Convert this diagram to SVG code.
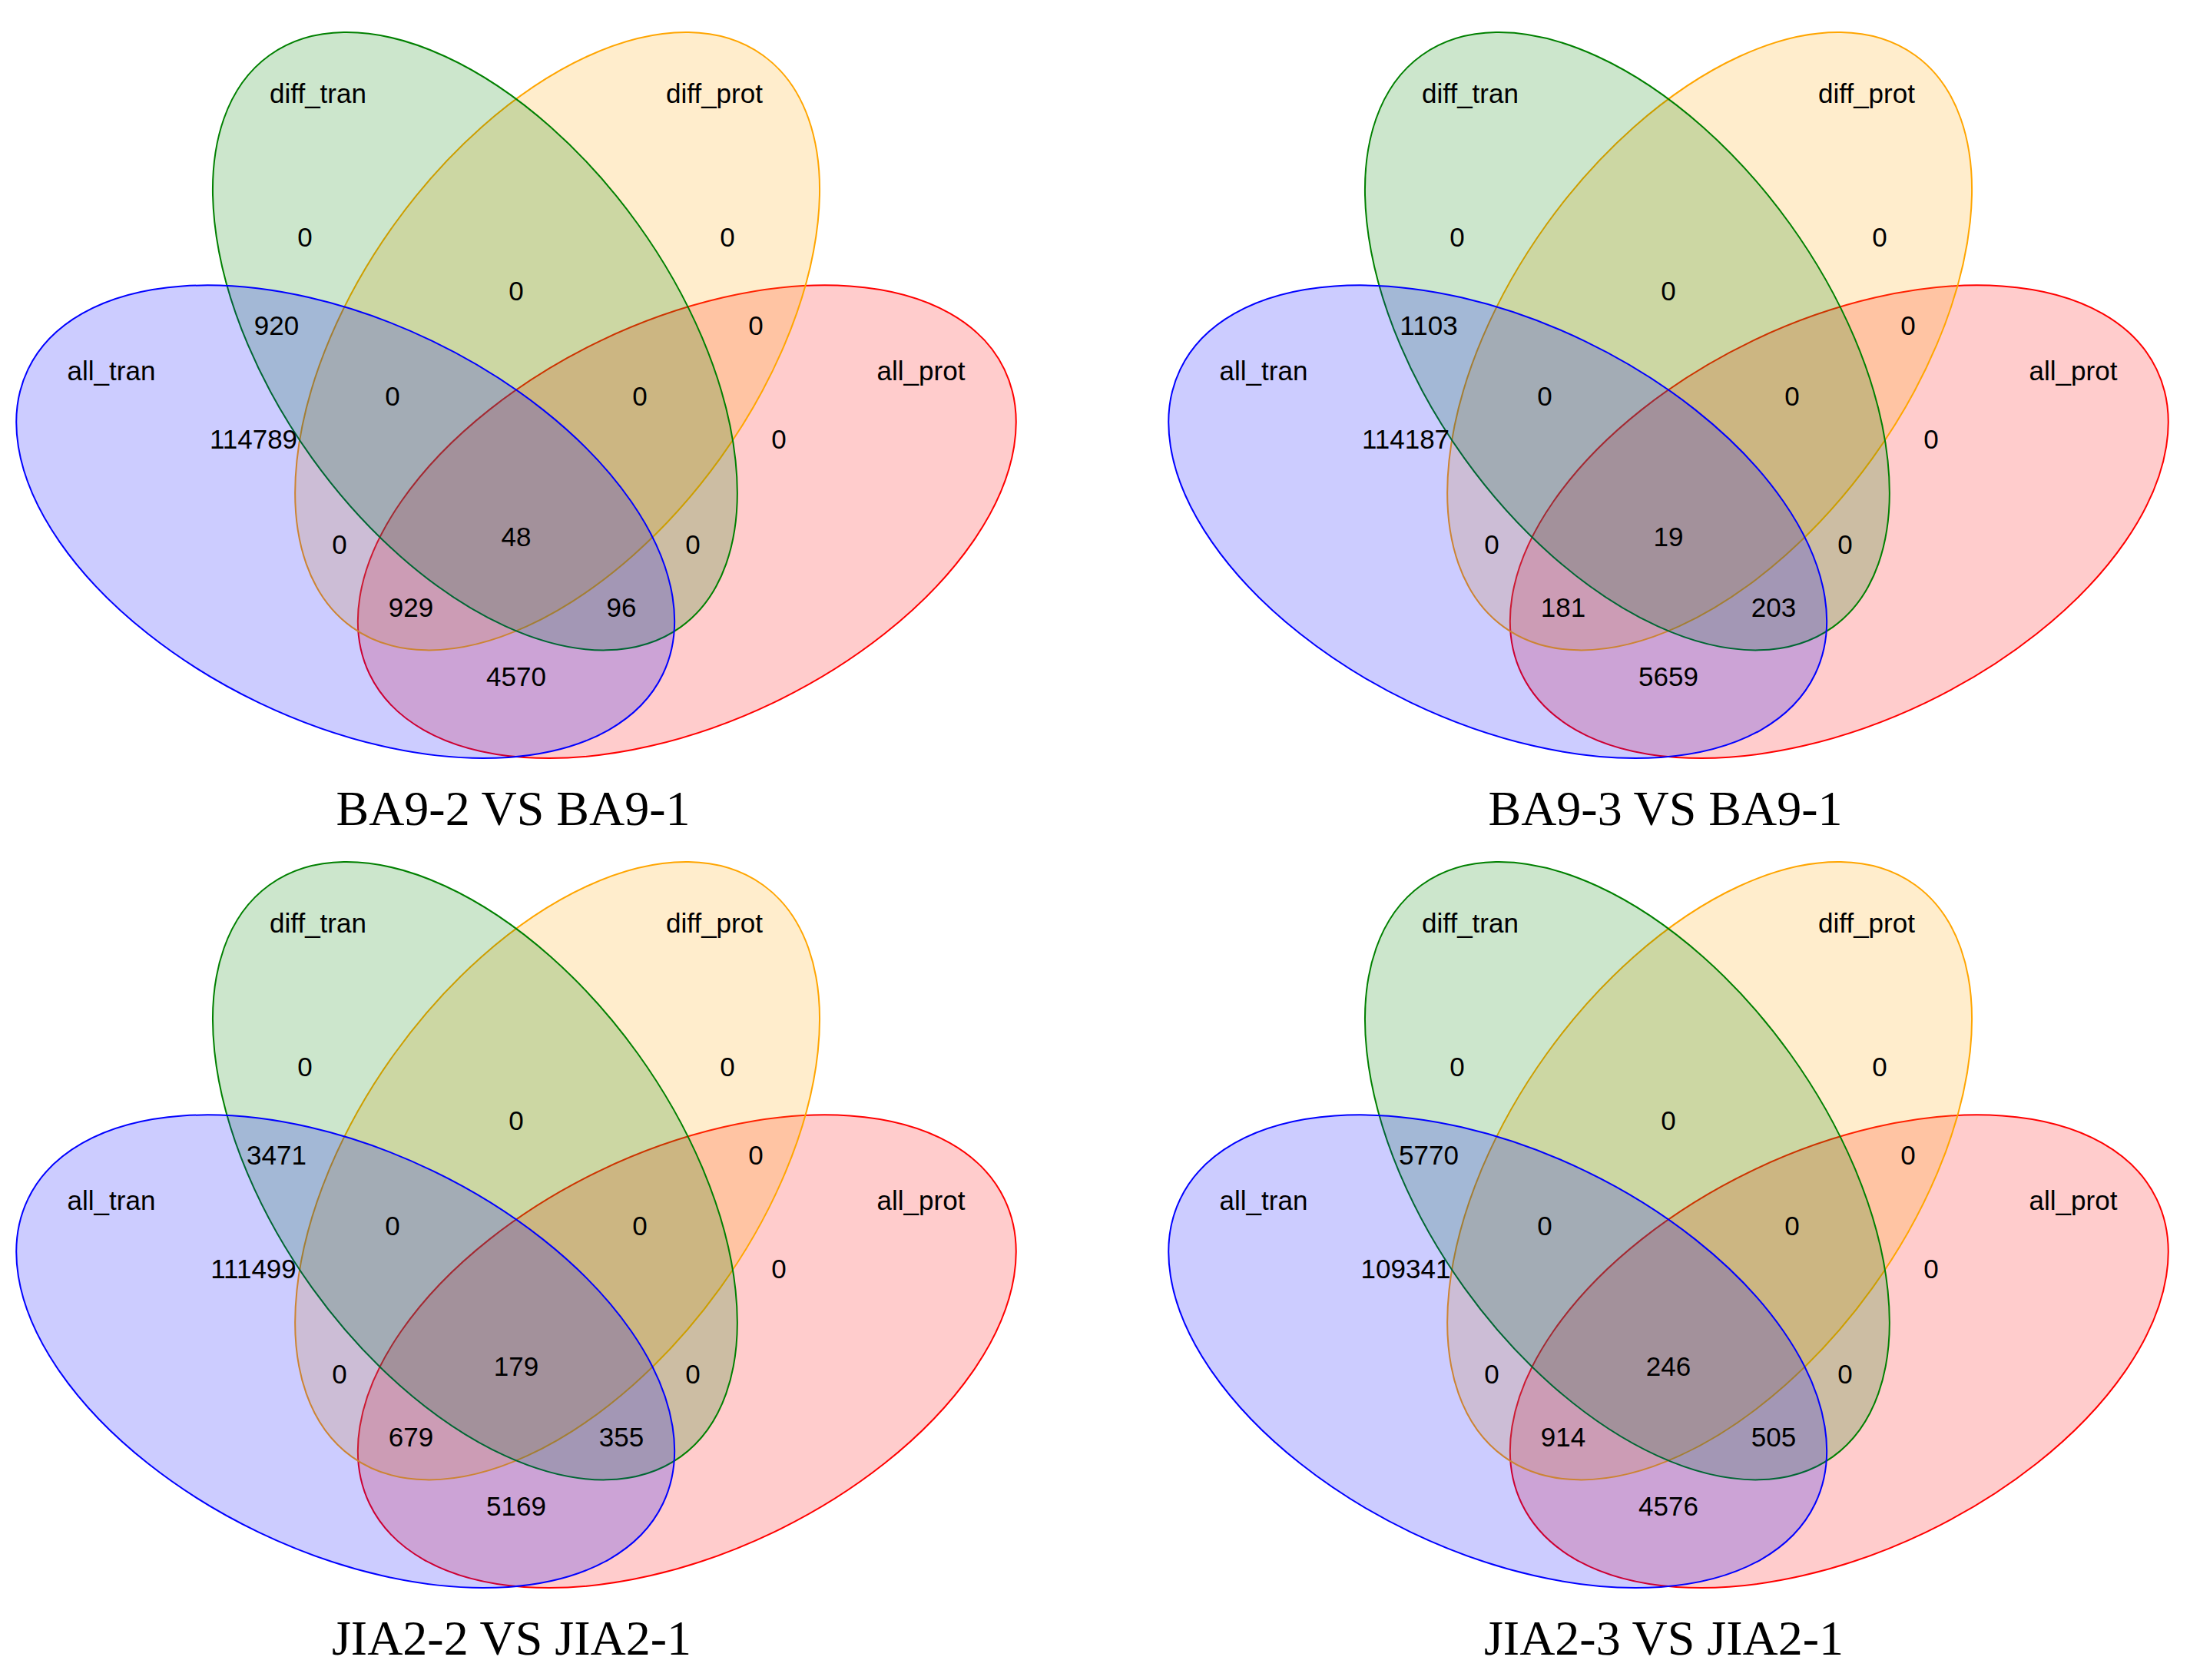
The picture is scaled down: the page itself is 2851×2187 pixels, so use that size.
<svg xmlns="http://www.w3.org/2000/svg" xmlns:xlink="http://www.w3.org/1999/xlink" width="2851" height="2187" viewBox="0 0 2851 2187">
<style>
.e{stroke-width:2;fill-opacity:0.2}
.blue{fill:#0000FF;stroke:#0000FF}
.red{fill:#FF0000;stroke:#FF0000}
.green{fill:#008000;stroke:#008000}
.orange{fill:#FFA500;stroke:#FFA500}
text{font-family:"Liberation Sans",Arial,sans-serif;font-size:35px;fill:#000;text-anchor:middle}
text.title{font-family:"Liberation Serif","Times New Roman",serif;font-size:64px}
</style>
<defs>
<ellipse id="shape" cx="0" cy="0" rx="458.4" ry="261.1"/>
</defs>
<rect width="2851" height="2187" fill="#FFFFFF"/>

<g id="venn-ba9-2-vs-ba9-1">
<g id="tl-all-prot"><use xlink:href="#shape" class="e red" transform="translate(894.3,679.2) rotate(-25.64)"/></g>
<g id="tl-diff-prot"><use xlink:href="#shape" class="e orange" transform="translate(725.6,444.2) rotate(-54.28)"/></g>
<g id="tl-diff-tran"><use xlink:href="#shape" class="e green" transform="translate(618.4,444.2) rotate(54.28)"/></g>
<g id="tl-all-tran"><use xlink:href="#shape" class="e blue" transform="translate(449.7,679.2) rotate(25.64)"/></g>
<g id="tl-labels">
<text x="414" y="134">diff_tran</text><text x="930" y="134">diff_prot</text>
<text x="145" y="495">all_tran</text><text x="1199" y="495">all_prot</text>
<text x="397" y="321">0</text><text x="947" y="321">0</text>
<text x="672" y="391">0</text>
<text x="360" y="436">920</text><text x="984" y="436">0</text>
<text x="511" y="528">0</text><text x="833" y="528">0</text>
<text x="330" y="584">114789</text><text x="1014" y="584">0</text>
<text x="672" y="711">48</text>
<text x="442" y="721">0</text><text x="902" y="721">0</text>
<text x="535" y="803">929</text><text x="809" y="803">96</text>
<text x="672" y="893">4570</text>
<text class="title" x="668" y="1074">BA9-2 VS BA9-1</text>
</g>
</g>

<g id="venn-ba9-3-vs-ba9-1" transform="translate(1500,0)">
<g id="tr-all-prot"><use xlink:href="#shape" class="e red" transform="translate(894.3,679.2) rotate(-25.64)"/></g>
<g id="tr-diff-prot"><use xlink:href="#shape" class="e orange" transform="translate(725.6,444.2) rotate(-54.28)"/></g>
<g id="tr-diff-tran"><use xlink:href="#shape" class="e green" transform="translate(618.4,444.2) rotate(54.28)"/></g>
<g id="tr-all-tran"><use xlink:href="#shape" class="e blue" transform="translate(449.7,679.2) rotate(25.64)"/></g>
<g id="tr-labels">
<text x="414" y="134">diff_tran</text><text x="930" y="134">diff_prot</text>
<text x="145" y="495">all_tran</text><text x="1199" y="495">all_prot</text>
<text x="397" y="321">0</text><text x="947" y="321">0</text>
<text x="672" y="391">0</text>
<text x="360" y="436">1103</text><text x="984" y="436">0</text>
<text x="511" y="528">0</text><text x="833" y="528">0</text>
<text x="330" y="584">114187</text><text x="1014" y="584">0</text>
<text x="672" y="711">19</text>
<text x="442" y="721">0</text><text x="902" y="721">0</text>
<text x="535" y="803">181</text><text x="809" y="803">203</text>
<text x="672" y="893">5659</text>
<text class="title" x="668" y="1074">BA9-3 VS BA9-1</text>
</g>
</g>

<g id="venn-jia2-2-vs-jia2-1" transform="translate(0,1080)">
<g id="bl-all-prot"><use xlink:href="#shape" class="e red" transform="translate(894.3,679.2) rotate(-25.64)"/></g>
<g id="bl-diff-prot"><use xlink:href="#shape" class="e orange" transform="translate(725.6,444.2) rotate(-54.28)"/></g>
<g id="bl-diff-tran"><use xlink:href="#shape" class="e green" transform="translate(618.4,444.2) rotate(54.28)"/></g>
<g id="bl-all-tran"><use xlink:href="#shape" class="e blue" transform="translate(449.7,679.2) rotate(25.64)"/></g>
<g id="bl-labels">
<text x="414" y="134">diff_tran</text><text x="930" y="134">diff_prot</text>
<text x="145" y="495">all_tran</text><text x="1199" y="495">all_prot</text>
<text x="397" y="321">0</text><text x="947" y="321">0</text>
<text x="672" y="391">0</text>
<text x="360" y="436">3471</text><text x="984" y="436">0</text>
<text x="511" y="528">0</text><text x="833" y="528">0</text>
<text x="330" y="584">111499</text><text x="1014" y="584">0</text>
<text x="672" y="711">179</text>
<text x="442" y="721">0</text><text x="902" y="721">0</text>
<text x="535" y="803">679</text><text x="809" y="803">355</text>
<text x="672" y="893">5169</text>
<text class="title" x="666" y="1074">JIA2-2 VS JIA2-1</text>
</g>
</g>

<g id="venn-jia2-3-vs-jia2-1" transform="translate(1500,1080)">
<g id="br-all-prot"><use xlink:href="#shape" class="e red" transform="translate(894.3,679.2) rotate(-25.64)"/></g>
<g id="br-diff-prot"><use xlink:href="#shape" class="e orange" transform="translate(725.6,444.2) rotate(-54.28)"/></g>
<g id="br-diff-tran"><use xlink:href="#shape" class="e green" transform="translate(618.4,444.2) rotate(54.28)"/></g>
<g id="br-all-tran"><use xlink:href="#shape" class="e blue" transform="translate(449.7,679.2) rotate(25.64)"/></g>
<g id="br-labels">
<text x="414" y="134">diff_tran</text><text x="930" y="134">diff_prot</text>
<text x="145" y="495">all_tran</text><text x="1199" y="495">all_prot</text>
<text x="397" y="321">0</text><text x="947" y="321">0</text>
<text x="672" y="391">0</text>
<text x="360" y="436">5770</text><text x="984" y="436">0</text>
<text x="511" y="528">0</text><text x="833" y="528">0</text>
<text x="330" y="584">109341</text><text x="1014" y="584">0</text>
<text x="672" y="711">246</text>
<text x="442" y="721">0</text><text x="902" y="721">0</text>
<text x="535" y="803">914</text><text x="809" y="803">505</text>
<text x="672" y="893">4576</text>
<text class="title" x="666" y="1074">JIA2-3 VS JIA2-1</text>
</g>
</g>
</svg>
